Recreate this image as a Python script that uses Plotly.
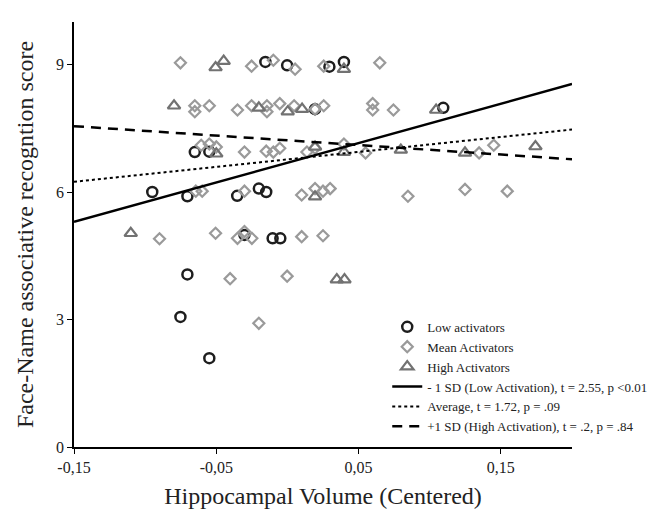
import plotly.graph_objects as go

# Low activators (circles)
low_x = [-0.0155, -0.0002, 0.0295, 0.0397, 0.0194, 0.1095, -0.0651, -0.0549,
         -0.095, -0.0703, -0.0353, -0.0201, -0.0149, -0.0302, -0.0104, -0.005,
         -0.0703, -0.0752, -0.0549]
low_y = [9.06, 8.98, 8.95, 9.06, 7.95, 7.98, 6.94, 6.95,
         6.0, 5.90, 5.91, 6.08, 6.0, 4.99, 4.91, 4.91,
         4.06, 3.06, 2.09]

# Mean activators (diamonds)
mean_x = [-0.0752, -0.0252, -0.0099, 0.0054, 0.0255, 0.0649,
          -0.0651, -0.0651, -0.0549, -0.0351, -0.0252, -0.0144, -0.0144, -0.0054,
          0.0047, 0.0194, 0.0255, 0.0599, 0.0599, 0.0745,
          -0.0606, -0.0549, -0.05, -0.0302, -0.0149, -0.0099, -0.0054, 0.0137,
          0.0194, 0.0397, 0.0549, 0.1347, 0.145,
          -0.0644, -0.0599, -0.0302, 0.01, 0.0194, 0.025, 0.03, 0.0847, 0.1248, 0.1545,
          -0.0899, -0.0505, -0.0351, -0.0302, -0.025, 0.01, 0.025,
          -0.0403, -0.0002, -0.0201]
mean_y = [9.04, 8.96, 9.10, 8.89, 8.96, 9.04,
          8.03, 7.89, 8.03, 7.93, 8.03, 8.03, 7.89, 8.08,
          8.03, 7.95, 8.03, 8.08, 7.93, 7.93,
          7.10, 7.13, 7.06, 6.94, 6.96, 6.94, 7.03, 6.94,
          7.03, 7.13, 6.92, 6.92, 7.10,
          6.02, 6.02, 6.02, 5.93, 6.08, 6.02, 6.08, 5.90, 6.06, 6.02,
          4.90, 5.03, 4.91, 5.07, 4.91, 4.95, 4.97,
          3.96, 4.02, 2.91]

# High activators (triangles)
high_x = [-0.0505, -0.0448, 0.0397, -0.0797, -0.0201, 0.0002, 0.0103, 0.1045,
          -0.05, 0.0194, 0.0397, 0.0797, 0.1248, 0.1743,
          0.0194, -0.1101, 0.0347, 0.0401]
high_y = [8.93, 9.08, 8.89, 8.03, 7.98, 7.89, 7.95, 7.93,
          6.90, 7.06, 6.94, 6.99, 6.92, 7.07,
          5.89, 5.03, 3.94, 3.94]

# Simple slopes (endpoints)
line_x = [-0.15, 0.20]
low_line_y = [5.30, 8.54]
avg_line_y = [6.24, 7.47]
high_line_y = [7.55, 6.77]

x_tickvals = [-0.15, -0.05, 0.05, 0.15]
x_ticktext = ["-0,15", "-0,05", "0,05", "0,15"]
y_tickvals = [0, 3, 6, 9]

FONT = "Liberation Serif"

fig = go.Figure()
fig.add_trace(go.Scatter(x=low_x, y=low_y, mode="markers", name="Low activators",
                         marker=dict(symbol="circle-open", size=10, color="#1e1e1e",
                                     line=dict(width=2.5, color="#1e1e1e"))))
fig.add_trace(go.Scatter(x=mean_x, y=mean_y, mode="markers", name="Mean Activators",
                         marker=dict(symbol="diamond-open", size=8.5, color="#9a9a9a",
                                     line=dict(width=2.2, color="#9a9a9a"))))
fig.add_trace(go.Scatter(x=high_x, y=high_y, mode="markers", name="High Activators",
                         marker=dict(symbol="triangle-up-open", size=11, color="#727272",
                                     line=dict(width=2.2, color="#727272"))))
fig.add_trace(go.Scatter(x=line_x, y=low_line_y, mode="lines",
                         name="- 1 SD (Low Activation), t = 2.55, p <0.01",
                         line=dict(color="black", width=2.5, dash="solid")))
fig.add_trace(go.Scatter(x=line_x, y=avg_line_y, mode="lines",
                         name="Average, t = 1.72, p = .09",
                         line=dict(color="black", width=2, dash="dot")))
fig.add_trace(go.Scatter(x=line_x, y=high_line_y, mode="lines",
                         name="+1 SD (High Activation), t = .2, p = .84",
                         line=dict(color="black", width=2.5, dash="10px,7px")))

fig.update_layout(
    width=657, height=509,
    margin=dict(l=66, r=74, t=14, b=67),
    plot_bgcolor="white", paper_bgcolor="white",
    font=dict(family=FONT, color="#222222", size=16),
    legend=dict(x=0.629, y=0.318, xanchor="left", yanchor="top",
                font=dict(family=FONT, size=13, color="#222222"),
                bgcolor="rgba(0,0,0,0)", tracegroupgap=0, itemwidth=30),
    showlegend=True,
)
fig.update_xaxes(range=[-0.15, 0.20], tickvals=x_tickvals, ticktext=x_ticktext,
                 showgrid=False, zeroline=False, showline=True, linecolor="black",
                 linewidth=1.5, ticks="outside", ticklen=5, tickcolor="black",
                 tickfont=dict(size=16, family=FONT),
                 title=dict(text="Hippocampal Volume (Centered)",
                            font=dict(size=24, family=FONT), standoff=12))
fig.update_yaxes(range=[0, 10], tickvals=y_tickvals,
                 showgrid=False, zeroline=False, showline=True, linecolor="black",
                 linewidth=1.5, ticks="outside", ticklen=5, tickcolor="black",
                 tickfont=dict(size=16, family=FONT),
                 title=dict(text="Face-Name associative recogntion score",
                            font=dict(size=24, family=FONT), standoff=16))

fig.write_html("out.html")
